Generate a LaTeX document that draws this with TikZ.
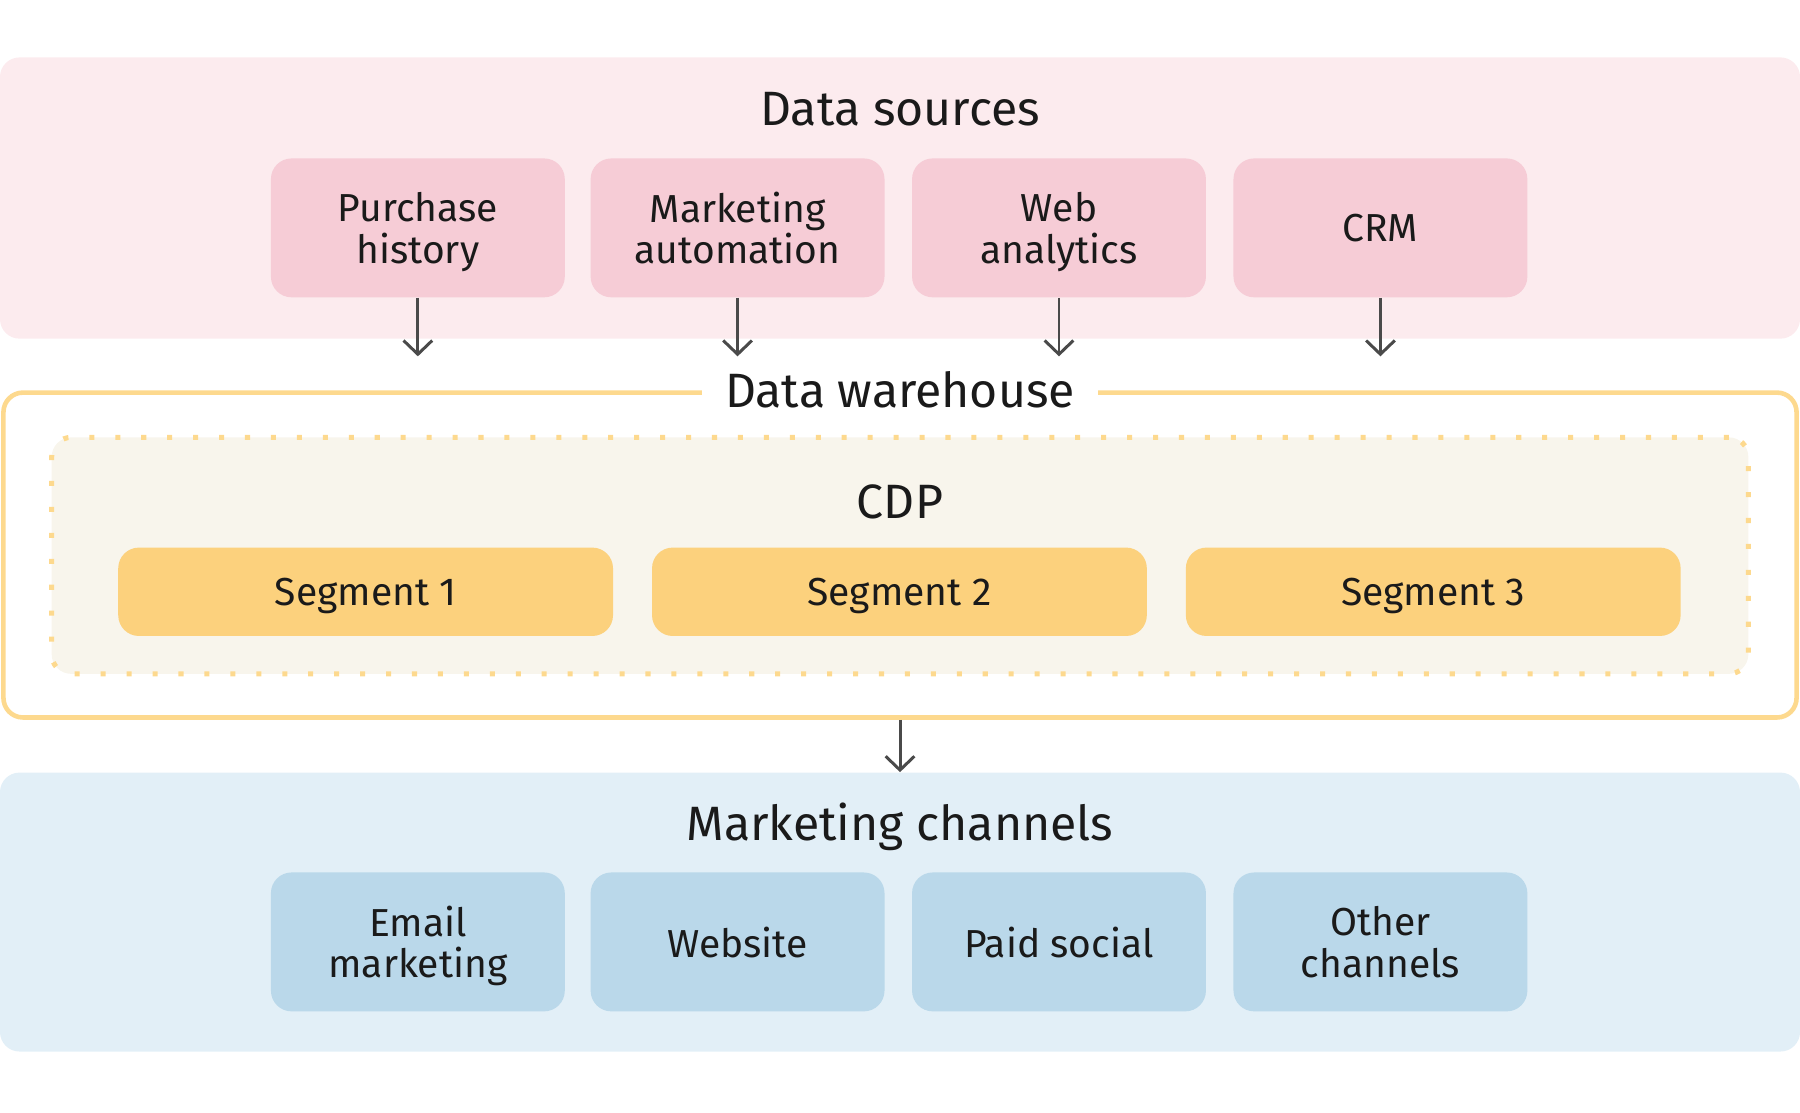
\documentclass[tikz,border=0pt]{standalone}
\usepackage{fontspec}
\setmainfont{Fira Sans}
\usepackage{tikz}
\usetikzlibrary{positioning,arrows.meta}

\definecolor{srcbg}{HTML}{FCEBEE}
\definecolor{srcfill}{HTML}{F6CCD6}
\definecolor{whline}{HTML}{FDD98E}
\definecolor{cdpbg}{HTML}{F8F5EC}
\definecolor{segfill}{HTML}{FCD17D}
\definecolor{chbg}{HTML}{E2EFF7}
\definecolor{chfill}{HTML}{BAD8EA}
\definecolor{arrgray}{HTML}{4A4A4A}
\definecolor{txt}{HTML}{1A1A1A}

\newcommand{\PW}{1568}
\newcommand{\PH}{969}
\newcommand{\TopY}{198.5}
\newcommand{\BotY}{820.5}

\tikzset{
  area/.style={rounded corners=8.5pt, inner sep=0pt, minimum width=784pt},
  item/.style={rounded corners=9pt, inner sep=0pt, minimum width=128pt, minimum height=60.5pt,
    align=center, text=txt, text depth=0pt, font=\fontsize{17}{18}\selectfont},
  seg/.style={item, fill=segfill, minimum width=215.5pt, minimum height=38.5pt, text depth=-1pt},
  heading/.style={anchor=base, text=txt, font=\fontsize{21}{24}\selectfont},
  arr/.style={draw=arrgray, line width=1.3pt, -{Straight Barb[length=6pt, width=12.5pt]}}
}

\begin{document}
\begin{tikzpicture}[x=0.5pt, y=-0.5pt]
  \useasboundingbox (0,0) rectangle (\PW,\PH);

  % data sources
  \node[area, fill=srcbg, minimum height=122.5pt] (ds) at (784,172.5) {};
  \node[heading] (dsl) at (784,109) {Data sources};
  \node[item, fill=srcfill] (ph) at (364,\TopY) {Purchase\\history};
  \node[item, fill=srcfill] (ma) at (642.5,\TopY) {Marketing\\automation};
  \node[item, fill=srcfill] (wa) at (922.5,\TopY) {Web\\analytics};
  \node[item, fill=srcfill] (crm) at (1202.5,\TopY) {CRM};

  \foreach \n in {ph,ma,wa,crm}{
    \path (\n.south) ++(0,51) coordinate (\n-in);
    \draw[arr] (\n.south) -- (\n-in);
  }

  % data warehouse with the CDP inside
  \node[draw=whline, line width=2pt, rounded corners=8.5pt, inner sep=0pt,
        minimum width=781pt, minimum height=141.5pt] (wh) at (784,483.5) {};
  \node[heading, fill=white, inner xsep=10pt] (whl) at (784,355) {Data warehouse};
  \node[draw=whline, fill=cdpbg, line width=2.2pt, dash pattern=on 2.2pt off 9.1pt,
        rounded corners=8.5pt, inner sep=0pt,
        minimum width=739pt, minimum height=103pt] (cdp) at (784,484) {};
  \node[heading] (cdpl) at (784,452) {CDP};
  \node[seg] (s1) at (318.5,515.5) {Segment 1};
  \node[seg] (s2) at (783.5,515.5) {Segment 2};
  \node[seg] (s3) at (1248.5,515.5) {Segment 3};

  % marketing channels
  \node[area, fill=chbg, minimum height=121.5pt] (mc) at (784,794.5) {};
  \node[heading] (mcl) at (784,732) {Marketing channels};
  \node[item, fill=chfill] (em) at (364,\BotY) {Email\\marketing};
  \node[item, fill=chfill] (web) at (642.5,\BotY) {Website};
  \node[item, fill=chfill] (ps) at (922.5,\BotY) {Paid social};
  \node[item, fill=chfill] (oc) at (1202.5,\BotY) {Other\\channels};

  \draw[arr] (wh.south) -- (mc.north);
\end{tikzpicture}
\end{document}
